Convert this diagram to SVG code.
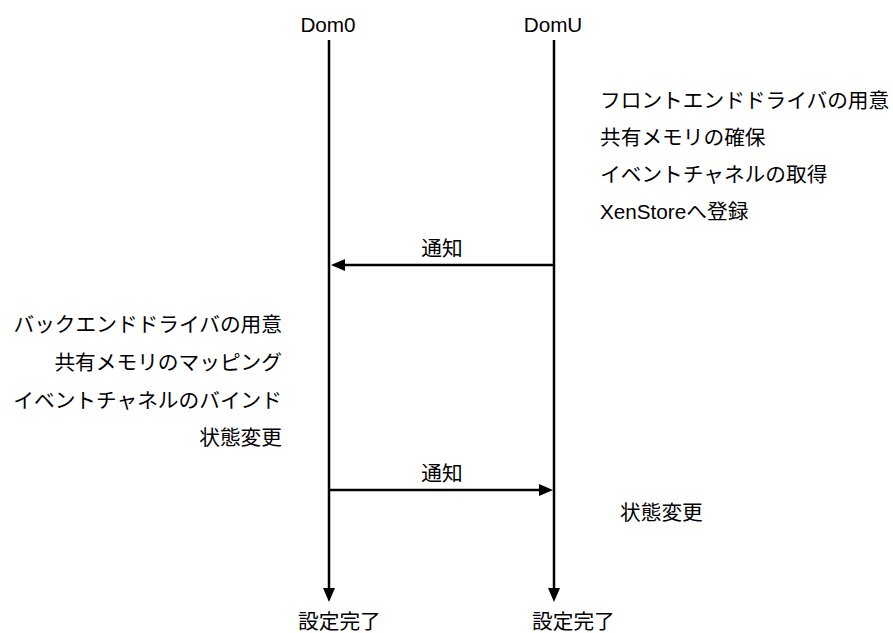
<svg xmlns="http://www.w3.org/2000/svg" width="893" height="633" viewBox="0 0 893 633">
<style>
text{font-family:"Liberation Sans","Noto Sans CJK JP",sans-serif;font-size:20.7px;fill:#000}
.ln{stroke:#000;stroke-width:2.5;fill:none}
.r{text-anchor:end}
.m{text-anchor:middle}
</style>
<defs>
<marker id="ah" markerUnits="userSpaceOnUse" markerWidth="14" markerHeight="12" refX="7" refY="6" orient="auto" viewBox="0 0 14 12">
<path d="M0,0 L14,6 L0,12 z" fill="#000"/>
</marker>
</defs>
<rect width="893" height="633" fill="#fff"/>
<g id="dom0">
<text class="m" x="328" y="32">Dom0</text>
<text x="298" y="629">設定完了</text>
</g>
<g id="domu">
<text class="m" x="553" y="32">DomU</text>
<text x="532" y="629">設定完了</text>
</g>
<g id="domu-steps">
<text x="600" y="108">フロントエンドドライバの用意</text>
<text x="600" y="145">共有メモリの確保</text>
<text x="600" y="182">イベントチャネルの取得</text>
<text x="600" y="219">XenStoreへ登録</text>
</g>
<g id="dom0-steps">
<text class="r" x="282" y="332">バックエンドドライバの用意</text>
<text class="r" x="282" y="370">共有メモリのマッピング</text>
<text class="r" x="282" y="408">イベントチャネルのバインド</text>
<text class="r" x="282" y="445">状態変更</text>
</g>
<g id="domu-state">
<text x="620" y="520">状態変更</text>
</g>
<g id="connectors">
<line class="ln" x1="329" y1="40" x2="329" y2="595" marker-end="url(#ah)"/>
<line class="ln" x1="554" y1="40" x2="554" y2="595" marker-end="url(#ah)"/>
<line class="ln" x1="554" y1="265" x2="338" y2="265" marker-end="url(#ah)"/>
<line class="ln" x1="329" y1="490" x2="546" y2="490" marker-end="url(#ah)"/>
<text class="m" x="442" y="256">通知</text>
<text class="m" x="442" y="481">通知</text>
</g>
</svg>
